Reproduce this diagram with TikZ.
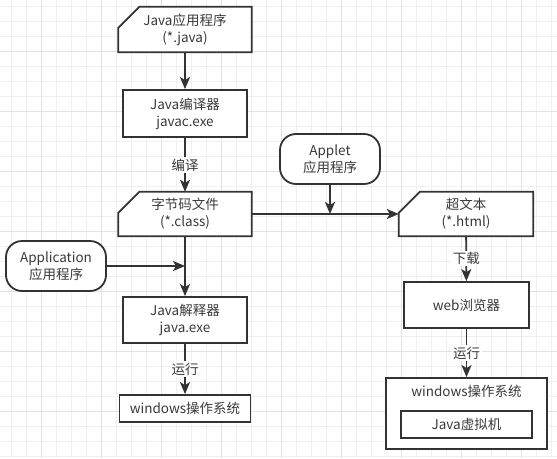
\documentclass[tikz,border=0pt]{standalone}
\usepackage{fontspec}
\setmainfont{Noto Sans CJK SC}
\usepackage{tikz}
\usetikzlibrary{arrows.meta,positioning}
\definecolor{linegray}{HTML}{333333}
\definecolor{textgray}{HTML}{3A3A3A}
\definecolor{gridminor}{HTML}{F0F0F0}
\definecolor{gridmajor}{HTML}{E2E2E2}
\pgfdeclarelayer{grid}
\pgfdeclarelayer{bg}
\pgfsetlayers{grid,bg,main}

\tikzset{
  box/.style={draw=linegray, line width=1.8pt, fill=white, inner sep=0pt,
    align=center, text=textgray},
  procbox/.style={box, minimum width=124pt, minimum height=46pt},
  flatbox/.style={box, minimum width=131pt, minimum height=27pt},
  cardbox/.style={inner sep=0pt, align=center, text=textgray,
    minimum height=44pt},
  termbox/.style={box, rounded corners=16pt, minimum width=100pt,
    minimum height=50pt},
  flow/.style={->, draw=linegray, line width=1.8pt},
  tag/.style={fill=white, inner sep=1.5pt, text=textgray},
}

% chamfered outline behind a card node
\newcommand{\cardoutline}[2][21pt]{%
  \begin{pgfonlayer}{bg}
    \filldraw[fill=white, draw=linegray, line width=1.8pt]
      ([xshift=#1]#2.north west) -- (#2.north east) -- (#2.south east)
      -- (#2.south west) -- ([yshift=-#1]#2.north west) -- cycle;
  \end{pgfonlayer}}

\begin{document}
\begin{tikzpicture}[x=1pt, y=-1pt, >={Stealth[length=12pt,width=10pt,inset=3pt]},
  every node/.style={font=\fontsize{13.5}{17}\selectfont}]
  \useasboundingbox (0,0) rectangle (557,458);
  \begin{pgfonlayer}{grid}
    \fill[white] (0,0) rectangle (557,458);
    \foreach \i in {0,...,36}
      \draw[gridminor, line width=1pt] ({11.7+15*\i},0) -- ({11.7+15*\i},458);
    \foreach \j in {0,...,30}
      \draw[gridminor, line width=1pt] (0,{6.7+15*\j}) -- (557,{6.7+15*\j});
    \foreach \i in {0,...,8}
      \draw[gridmajor, line width=1pt] ({41.7+60*\i},0) -- ({41.7+60*\i},458);
    \foreach \j in {0,...,6}
      \draw[gridmajor, line width=1pt] (0,{51.7+60*\j}) -- (557,{51.7+60*\j});
  \end{pgfonlayer}

  % left column
  \node[cardbox, minimum width=133pt, minimum height=45pt] (src) at (185,29.5)
    {Java应用程序\\(*.java)};
  \cardoutline{src}
  \node[procbox, minimum height=47pt] (cmp) at (185,113.5) {Java编译器\\javac.exe};
  \node[cardbox, minimum width=133pt] (cls) at (185,214) {字节码文件\\(*.class)};
  \cardoutline{cls}
  \node[termbox] (app) at (56,266) {Application\\应用程序};
  \node[procbox] (interp) at (185,320) {Java解释器\\java.exe};
  \node[flatbox] (win1) at (185,408.5) {windows操作系统};

  % right column
  \node[termbox] (applet) at (330,159) {Applet\\应用程序};
  \node[cardbox, minimum width=134pt] (html) at (466,214) {超文本\\(*.html)};
  \cardoutline{html}
  \node[procbox, minimum width=125pt] (web) at (466.5,305) {web浏览器};
  \node[box, minimum width=161pt, minimum height=71pt] (win2) at (466.5,413.5) {};
  \node[text=textgray] (win2label) at (466.5,391) {windows操作系统};
  \node[flatbox] (jvm) at (466.5,424.5) {Java虚拟机};

  \coordinate (hub) at (applet.south |- cls.east);
  \coordinate (join) at (app.east -| cls.south);

  \draw[flow] (src) -- (cmp);
  \draw[flow] (cmp) -- node[tag] (lblcompile) {编译} (cls);
  \draw[flow] (cls) -- (interp);
  \draw[flow] (app) -- (join);
  \draw[flow] (interp) -- node[tag] (lblrun) {运行} (win1);
  \draw[flow] (cls.east) -- (html.west);
  \draw[flow] (applet) -- (hub);
  \draw[flow] (html) -- node[tag] (lblload) {下载} (web);
  \draw[flow] (web) -- node[tag] (lblrun2) {运行} (win2);
\end{tikzpicture}
\end{document}
